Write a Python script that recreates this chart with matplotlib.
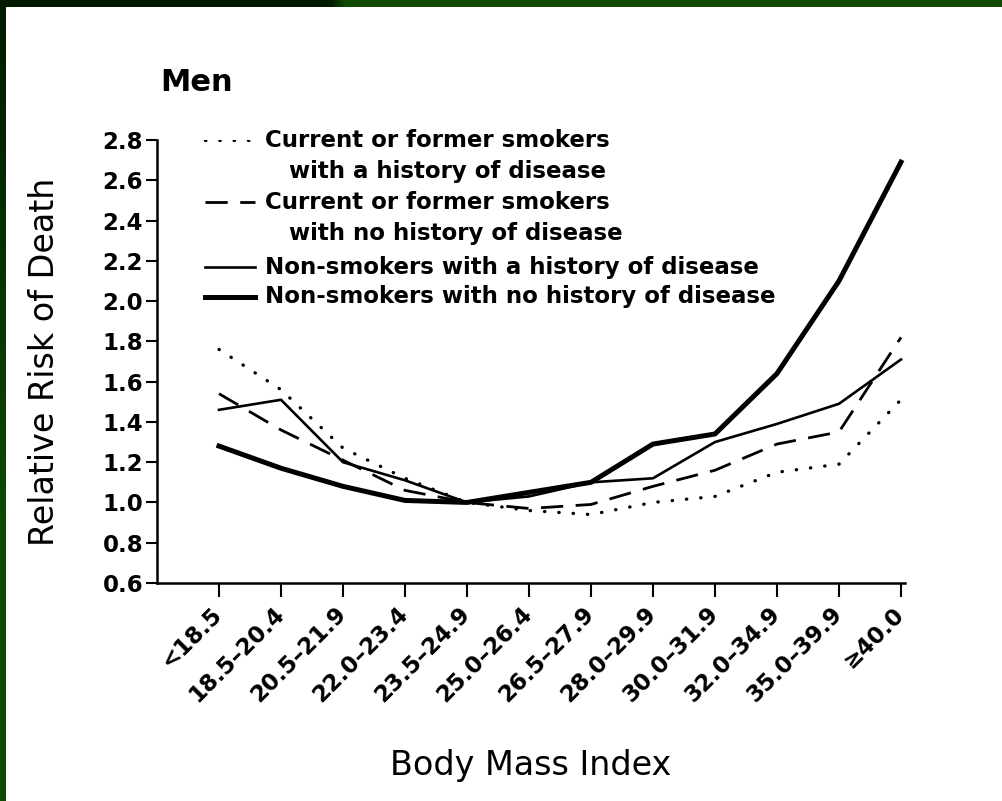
import numpy as np
import matplotlib.pyplot as plt
from matplotlib.lines import Line2D

# BMI categories and relative risk of death, men
categorias = ['<18.5', '18.5–20.4', '20.5–21.9', '22.0–23.4', '23.5–24.9', '25.0–26.4',
              '26.5–27.9', '28.0–29.9', '30.0–31.9', '32.0–34.9', '35.0–39.9', '≥40.0']

fumadores_enf = [1.76, 1.56, 1.27, 1.12, 1.00, 0.96, 0.94, 1.00, 1.03, 1.15, 1.19, 1.51]
fumadores_sano = [1.54, 1.36, 1.21, 1.06, 1.00, 0.97, 0.99, 1.08, 1.16, 1.29, 1.35, 1.82]
no_fumadores_enf = [1.46, 1.51, 1.20, 1.11, 1.00, 1.03, 1.10, 1.12, 1.30, 1.39, 1.49, 1.71]
no_fumadores_sano = [1.28, 1.17, 1.08, 1.01, 1.00, 1.05, 1.10, 1.29, 1.34, 1.64, 2.10, 2.69]

etiquetas = ['Current or former smokers\n   with a history of disease',
             'Current or former smokers\n   with no history of disease',
             'Non-smokers with a history of disease',
             'Non-smokers with no history of disease']

FUENTE = 'DejaVu Sans'
TAM = 16.5


def marco(fig):
    # dark green border strip along top and left edges
    W, H = 1003, 801
    oscuro = np.array([0, 26, 0]) / 255
    verde = np.array([15, 74, 0]) / 255
    xs = np.arange(W)
    t = np.clip((xs - 330) / 15, 0, 1)
    banda = oscuro[None, :] * (1 - t[:, None]) + verde[None, :] * t[:, None]
    ax_top = fig.add_axes([0, 1 - 7 / H, 1, 7 / H])
    ax_top.imshow(banda[None, :, :], aspect='auto')
    ax_top.axis('off')
    ys = np.arange(H)
    t2 = np.clip(ys / 520, 0, 1)
    franja = oscuro[None, :] * (1 - t2[:, None]) + verde[None, :] * t2[:, None]
    ax_left = fig.add_axes([0, 0, 6 / W, 1])
    ax_left.imshow(franja[:, None, :], aspect='auto')
    ax_left.axis('off')


def graficar(save_path='out.png'):
    fig = plt.figure(figsize=(10.03, 8.01), dpi=100)
    ax = fig.add_axes([157 / 1003, 1 - 583 / 801, 748 / 1003, 443 / 801])
    x = np.arange(len(categorias))

    estilos = [
        dict(lw=2.4, dashes=(0.1, 4.2), dash_capstyle='round'),
        dict(lw=2.0, dashes=(8, 4.5)),
        dict(lw=1.9),
        dict(lw=3.6),
    ]
    series = [fumadores_enf, fumadores_sano, no_fumadores_enf, no_fumadores_sano]
    for s, est in zip(series, estilos):
        ax.plot(x, s, color='black', solid_joinstyle='round', **est)

    ax.set_xlim(-1, 11.065)
    ax.set_ylim(0.6, 2.8)
    ax.set_yticks(np.arange(0.6, 2.81, 0.2))
    ax.set_yticklabels([f'{v:.1f}' for v in np.arange(0.6, 2.81, 0.2)], fontsize=TAM,
                       family=FUENTE, fontweight='bold')
    ax.set_xticks(x)
    ax.set_xticklabels(categorias, rotation=45, ha='right', va='center',
                       rotation_mode='anchor', fontsize=TAM, family=FUENTE, fontweight='bold')
    ax.tick_params(axis='y', direction='out', length=8, width=1.5, pad=2)
    ax.tick_params(axis='x', direction='out', length=10, width=1.5, pad=10)
    for lado in ['top', 'right']:
        ax.spines[lado].set_visible(False)
    for lado in ['left', 'bottom']:
        ax.spines[lado].set_linewidth(1.8)

    ax.set_ylabel('Relative Risk of Death', fontsize=24, family=FUENTE, labelpad=30)
    ax.set_xlabel('Body Mass Index', fontsize=24, family=FUENTE, labelpad=30)
    ax.text(0.004, 1.13, 'Men', transform=ax.transAxes, fontsize=22, family=FUENTE,
            fontweight='bold', ha='left', va='center')

    # legend drawn by hand so the key sits on the first line of each label
    filas = [1.0, 0.86, 0.713, 0.646]
    for fila, est, lab in zip(filas, estilos, etiquetas):
        ax.add_line(Line2D([0.064, 0.131], [fila, fila], transform=ax.transAxes,
                           color='black', **est))
        dos = '\n' in lab
        ax.text(0.144, fila + 0.024 if dos else fila, lab, transform=ax.transAxes,
                fontsize=TAM, family=FUENTE, fontweight='bold', ha='left',
                va='top' if dos else 'center', linespacing=1.45)

    marco(fig)
    fig.savefig(save_path, dpi=100, facecolor='white')


def main():
    graficar('out.png')


if __name__ == "__main__":
    main()
